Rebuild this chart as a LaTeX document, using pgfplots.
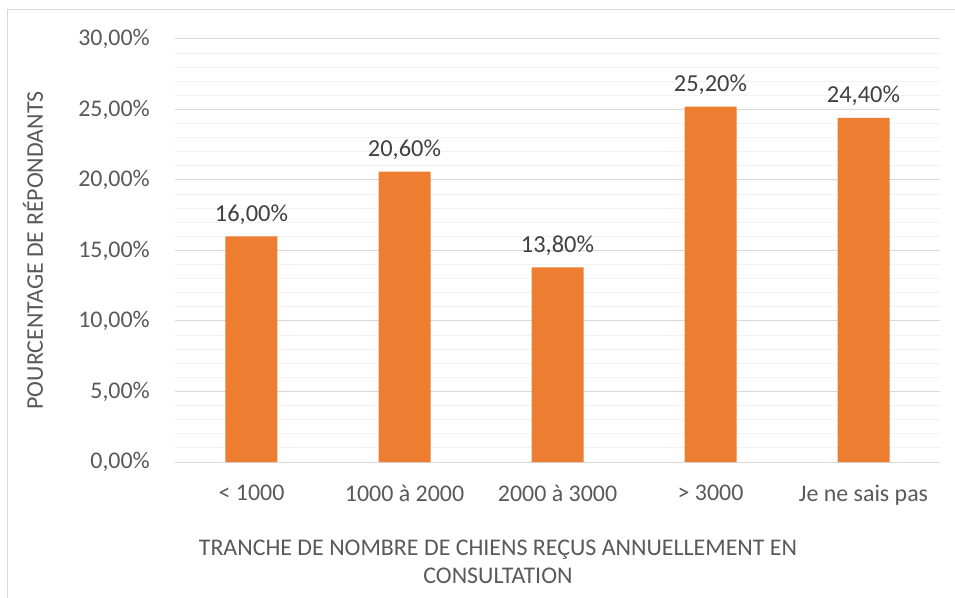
\documentclass[border=0pt]{standalone}
\usepackage{fontspec}
\setmainfont{Carlito}
\usepackage{pgfplots}
\pgfplotsset{compat=1.18}
\definecolor{barorange}{HTML}{ED7D31}
\definecolor{majgrid}{HTML}{D9D9D9}
\definecolor{mingrid}{HTML}{F2F2F2}
\definecolor{ticktext}{HTML}{595959}
\definecolor{labeltext}{HTML}{404040}

\begin{document}
\begin{tikzpicture}
\useasboundingbox (-175bp,-136bp) rectangle (780bp,462bp);
\draw[majgrid,line width=1bp] (-167bp,-136bp) -- (-167bp,452bp) -- (780bp,452bp);
\begin{axis}[
 at={(0,0)},anchor=south west,
 scale only axis,width=765bp,height=423bp,
 ybar,bar width=52bp,
 xmin=-0.5,xmax=4.5,ymin=0,ymax=30,
 xtick=data,
 xticklabels={< 1000,1000 à 2000,2000 à 3000,> 3000,Je ne sais pas},
 ytick={0,5,...,30},minor y tick num=4,
 ymajorgrids,yminorgrids,
 major grid style={majgrid,line width=1bp},
 minor grid style={mingrid,line width=1bp},
 axis line style={draw=none},
 major tick length=0pt,minor tick length=0pt,
 tick style={draw=none},
 /pgf/number format/assume math mode=true,
 yticklabel={\pgfmathprintnumber[fixed,fixed zerofill,precision=2,use comma]{\tick}\%},
 tick label style={font=\fontsize{24}{28}\selectfont,text=ticktext},
 yticklabel style={anchor=east,inner sep=0pt,xshift=-25bp},
 xticklabel style={anchor=north,inner sep=0pt,yshift=-23bp},
 nodes near coords={\pgfmathprintnumber[fixed,fixed zerofill,precision=2,use comma]{\pgfplotspointmeta}\%},
 nodes near coords style={font=\fontsize{24.5}{28}\selectfont,text=labeltext,anchor=base,inner sep=0pt,yshift=15bp},
 ylabel={POURCENTAGE DE RÉPONDANTS},
 ylabel style={at={(axis description cs:-0.1856,0.5)},anchor=center,font=\fontsize{24}{28}\selectfont,text=ticktext,inner sep=0pt},
 xlabel={TRANCHE DE NOMBRE DE CHIENS REÇUS ANNUELLEMENT EN\\CONSULTATION},
 xlabel style={at={(axis description cs:0.4222,-0.185)},anchor=north,align=center,font=\fontsize{24}{28}\selectfont,text=ticktext,inner sep=0pt},
]
\addplot[fill=barorange,draw=none] coordinates
 {(0,16.0) (1,20.6) (2,13.8) (3,25.2) (4,24.4)};
\end{axis}
\end{tikzpicture}
\end{document}
